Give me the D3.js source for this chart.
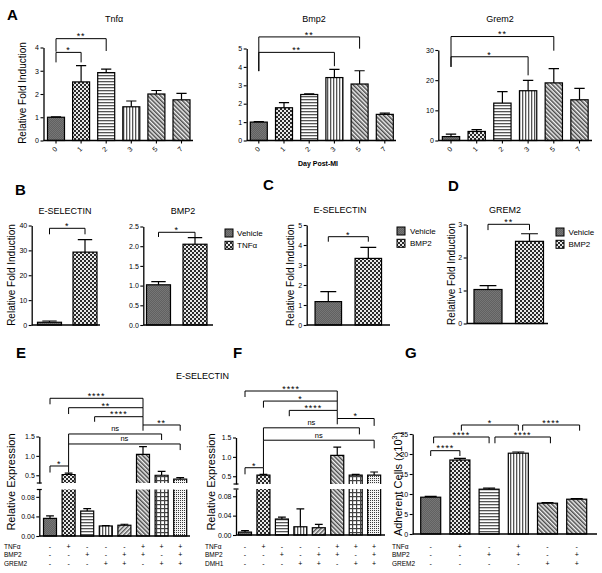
<!DOCTYPE html>
<html><head><meta charset="utf-8">
<script src="https://cdn.jsdelivr.net/npm/d3@7"></script>
<style>
body{margin:0;background:#fff;}
svg{display:block;font-family:"Liberation Sans",Arial,Helvetica,sans-serif;}
</style></head><body>
<svg id="c" width="602" height="573"></svg>
<script>
// ---------------- DATA ----------------
const daysA = ["0","1","2","3","5","7"];
const tnfaVals = [1.0, 2.52, 2.92, 1.45, 2.0, 1.75];
const tnfaErr  = [0.02, 0.70, 0.15, 0.25, 0.15, 0.28];
const bmp2AVals = [1.0, 1.78, 2.50, 3.42, 3.07, 1.42];
const bmp2AErr  = [0.03, 0.28, 0.03, 0.45, 0.72, 0.07];
const grem2AVals = [1.3, 3.0, 12.4, 16.5, 19.1, 13.5];
const grem2AErr  = [0.8, 0.6, 3.8, 3.4, 4.7, 3.8];
const ticksTnfa = [0,1,2,3,4];
const ticksBmp2A = [0,1,2,3,4,5];
const ticksGrem2A = [0,10,20,30];

const legendB = ["Vehicle","TNFα"];
const legendCD = ["Vehicle","BMP2"];
const eselBVals = [1.1, 29.3], eselBErr = [0.5, 5.0];
const bmp2BVals = [1.02, 2.05], bmp2BErr = [0.08, 0.17];
const eselCVals = [1.17, 3.33], eselCErr = [0.5, 0.55];
const grem2DVals = [1.03, 2.49], grem2DErr = [0.12, 0.23];
const ticksEselB = [0,10,20,30,40];
const ticksBmp2B = [0,0.5,1.0,1.5,2.0,2.5];
const ticksEselC = [0,1,2,3,4,5];
const ticksGrem2D = [0,1,2,3];

const eVals = [0.036, 0.52, 0.051, 0.0205, 0.022, 1.04, 0.50, 0.40];
const eErr  = [0.005, 0.035, 0.005, 0.001, 0.002, 0.20, 0.10, 0.04];
const fVals = [0.006, 0.53, 0.033, 0.017, 0.015, 1.04, 0.53, 0.53];
const fErr  = [0.003, 0.02, 0.004, 0.037, 0.007, 0.21, 0.02, 0.08];
const ticksLow = [0, 0.04, 0.08];
const ticksHigh = [0.5, 1.0, 1.5];
const rowsE = ["TNFα","BMP2","GREM2"];
const signsE = [["-","+","-","-","-","+","+","+"],["-","-","+","-","+","+","-","+"],["-","-","-","+","+","-","+","+"]];
const rowsF = ["TNFα","BMP2","DMH1"];
const signsF = signsE;

const gVals = [9.2, 18.5, 11.2, 20.2, 7.7, 8.7];
const gErr  = [0.2, 0.4, 0.25, 0.3, 0.15, 0.15];
const ticksG = [0,5,10,15,20,25];
const rowsG = ["TNFα","BMP2","GREM2"];
const signsG = [["-","+","-","+","-","-"],["-","-","+","+","-","+"],["-","-","-","-","+","+"]];

// significance brackets: bar indices a,b ; heights in data units
const brTnfa = [{a:0,b:2,line:4.38,dl:3.82,dr:3.85,t:"**"},{a:0,b:1,line:3.79,dl:3.36,dr:3.36,t:"*"}];
const brBmp2A = [{a:0,b:4,line:5.63,dl:3.77,dr:4.99,t:"**"},{a:0,b:3,line:4.79,dl:3.77,dr:4.04,t:"**"}];
const brGrem2A = [{a:0,b:4,line:34.46,dl:24.4,dr:29.77,t:"**"},{a:0,b:3,line:27.76,dl:24.4,dr:21.6,t:"*"}];
const brEselB = [{a:0,b:1,line:38.87,dl:36.46,dr:36.46,t:"*"}];
const brBmp2B = [{a:0,b:1,line:2.353,dl:2.234,dr:2.234,t:"*"}];
const brEselC = [{a:0,b:1,line:4.415,dl:4.165,dr:4.165,t:"*"}];
const brGrem2D = [{a:0,b:1,line:3.006,dl:2.83,dr:2.83,t:"**"}];
const brE = [
 {a:0,b:5,line:2.486,dl:2.331,dr:2.243,t:"****"},
 {a:1,b:5,line:2.243,dl:2.08,dr:2.011,t:"**"},
 {a:2.4,b:5,line:2.011,dl:1.88,dr:1.797,t:"****"},
 {a:5,b:7,line:1.797,dl:1.65,dr:1.65,t:"**"},
 {a:1,b:6,line:1.565,dl:1.307,dr:1.41,t:"ns"},
 {a:1,b:7,line:1.307,dl:0.739,dr:1.15,t:"ns"},
 {a:0,b:1,line:0.739,dl:0.57,dr:0.57,t:"*"}];
const brF = [
 {a:0,b:5,line:2.70,dl:2.545,dr:2.44,t:"****"},
 {a:1,b:5,line:2.44,dl:2.27,dr:2.2,t:"*"},
 {a:2.4,b:5,line:2.2,dl:2.05,dr:1.99,t:"****"},
 {a:5,b:7,line:1.99,dl:1.84,dr:1.80,t:"*"},
 {a:1,b:6.2,line:1.75,dl:1.43,dr:1.58,t:"ns"},
 {a:1,b:7,line:1.43,dl:0.72,dr:1.22,t:"ns"},
 {a:0,b:1,line:0.72,dl:0.55,dr:0.55,t:"*"}];
const brG = [
 {a:0,b:1,line:20.83,dl:19.5,dr:19.5,t:"****"},
 {a:0.1,b:2,line:24.25,dl:22.68,dr:22.68,t:"****"},
 {a:2.2,b:4.1,line:24.25,dl:22.68,dr:22.68,t:"****"},
 {a:1.05,b:3,line:27.25,dl:25.83,dr:25.83,t:"*"},
 {a:3.15,b:5.1,line:27.25,dl:25.83,dr:25.83,t:"****"}];

// ---------------- DRAWING ----------------
const svg = d3.select("#c");
const defs = svg.append("defs");
function pat(id, w, h, draw, tr){
  const p = defs.append("pattern").attr("id",id).attr("patternUnits","userSpaceOnUse").attr("width",w).attr("height",h);
  if (tr) p.attr("patternTransform", tr);
  draw(p);
}
const R=(p,x,y,w,h,f)=>p.append("rect").attr("x",x).attr("y",y).attr("width",w).attr("height",h).attr("fill",f);
pat("dark",2,2,p=>{R(p,0,0,2,2,"#616161");R(p,0,0,1,1,"#767676");R(p,1,1,1,1,"#767676");});
pat("checker",4,4,p=>{R(p,0,0,4,4,"#e8e8e8");R(p,0,0,2,2,"#2a2a2a");R(p,2,2,2,2,"#2a2a2a");});
pat("hstripe",3,3,p=>{R(p,0,0,3,3,"#fff");R(p,0,0,3,1.3,"#555");});
pat("vstripe",3,3,p=>{R(p,0,0,3,3,"#fff");R(p,0,0,1.3,3,"#555");});
pat("diag",3,3,p=>{R(p,0,0,3,3,"#f2f2f2");R(p,0,0,1.5,3,"#4a4a4a");},"rotate(-45)");
pat("diag2",3,3,p=>{R(p,0,0,3,3,"#f2f2f2");R(p,0,0,1.4,3,"#555");},"rotate(45)");
pat("grid",4,4,p=>{R(p,0,0,4,4,"#fff");R(p,0,0,4,1.2,"#444");R(p,0,0,1.2,4,"#444");});
pat("fine",2,2,p=>{R(p,0,0,2,2,"#f4f4f4");R(p,0,0,1,1,"#3a3a3a");});

function txt(g,x,y,s,size,o={}){
  const t=g.append("text").attr("x",x).attr("y",y).attr("font-size",size)
    .attr("text-anchor",o.anchor||"middle").attr("fill","#000").text(s);
  if(o.bold) t.attr("font-weight","bold");
  if(o.rot!==undefined) t.attr("transform",`rotate(${o.rot},${x},${y})`);
  if(o.db) t.attr("dominant-baseline",o.db);
  if(o.ls) t.attr("letter-spacing",o.ls);
  return t;
}
function styleAxis(ax,fs){
  ax.select(".domain").attr("stroke-width",1.3);
  ax.selectAll(".tick line").attr("stroke-width",1.1);
  ax.selectAll(".tick text").attr("font-size",fs).attr("font-family",null);
  ax.attr("font-family",null);
}
function drawBrackets(g,x,y,list){
  list.forEach(b=>{
    const xa=x(b.a), xb=x(b.b), yl=y(b.line);
    g.append("path").attr("d",`M${xa},${y(b.dl)}V${yl}H${xb}V${y(b.dr)}`)
      .attr("fill","none").attr("stroke","#000").attr("stroke-width",1);
    if(b.t==="ns") txt(g,(xa+xb)/2,yl-2.5,b.t,7.5);
    else txt(g,(xa+xb)/2,yl+0.8,b.t,9,{ls:0.9});
  });
}
function errPath(xc,y0,yt,cw){return `M${xc},${y0}V${yt}M${xc-cw},${yt}H${xc+cw}`;}

function barChart(c){
  const g=svg.append("g");
  const n=c.vals.length;
  const x=d3.scaleLinear().domain([0,n-1]).range([c.c0,c.c0+c.step*(n-1)]);
  const y=d3.scaleLinear().domain([0,d3.max(c.ticks)]).range(c.yr);
  g.selectAll(".bar").data(c.vals).join("rect").attr("class","bar")
    .attr("x",(d,i)=>x(i)-c.bw/2).attr("width",c.bw)
    .attr("y",d=>y(d)).attr("height",d=>y(0)-y(d))
    .attr("fill",(d,i)=>`url(#${c.fills[i]})`).attr("stroke","#000").attr("stroke-width",1.2);
  g.selectAll(".eb").data(c.vals).join("path").attr("class","eb")
    .attr("d",(d,i)=>errPath(x(i),y(d),y(d+c.errs[i]),c.bw*0.3))
    .attr("stroke","#000").attr("stroke-width",1.2).attr("fill","none");
  const ax=g.append("g").attr("transform",`translate(${c.axisX},0)`)
    .call(d3.axisLeft(y).tickValues(c.ticks).tickFormat(c.fmt||d3.format("")).tickSize(3).tickSizeOuter(0).tickPadding(1.5));
  styleAxis(ax,c.fs||7);
  g.append("line").attr("x1",c.axisX).attr("x2",c.xEnd).attr("y1",y(0)).attr("y2",y(0))
    .attr("stroke","#000").attr("stroke-width",1.3);
  if(c.xlabels){
    g.selectAll(".xt").data(c.xlabels).join("line").attr("class","xt")
      .attr("x1",(d,i)=>x(i)).attr("x2",(d,i)=>x(i)).attr("y1",y(0)).attr("y2",y(0)+3)
      .attr("stroke","#000").attr("stroke-width",1.1);
    c.xlabels.forEach((d,i)=>txt(g,x(i)-1.5,y(0)+8.5,d,7,{rot:-45,db:"central"}));
  }
  if(c.title) txt(g,c.title[0],c.title[1],c.title[2],9);
  drawBrackets(g,x,y,c.brackets||[]);
  return {g,x,y};
}

function brokenChart(c){
  const g=svg.append("g");
  const n=c.vals.length;
  const x=d3.scaleLinear().domain([0,n-1]).range([c.c0,c.c0+c.step*(n-1)]);
  const yLo=d3.scaleLinear().domain(c.loDom).range(c.loR);
  const yHi=d3.scaleLinear().domain(c.hiDom).range(c.hiR);
  const loMax=c.loDom[1], hiMin=c.hiDom[0];
  c.vals.forEach((v,i)=>{
    const xl=x(i)-c.bw/2, xr=x(i)+c.bw/2, fill=`url(#${c.fills[i]})`;
    if(v<=loMax){
      g.append("rect").attr("x",xl).attr("y",yLo(v)).attr("width",c.bw).attr("height",yLo(0)-yLo(v))
        .attr("fill",fill).attr("stroke","#000").attr("stroke-width",1.2);
      g.append("path").attr("d",errPath(x(i),yLo(v),yLo(v+c.errs[i]),c.bw*0.3))
        .attr("stroke","#000").attr("stroke-width",1.2).attr("fill","none");
    } else {
      g.append("rect").attr("x",xl).attr("y",yLo(loMax)).attr("width",c.bw).attr("height",yLo(0)-yLo(loMax)).attr("fill",fill);
      g.append("path").attr("d",`M${xl},${yLo(loMax)}V${yLo(0)}H${xr}V${yLo(loMax)}`)
        .attr("fill","none").attr("stroke","#000").attr("stroke-width",1.2);
      g.append("rect").attr("x",xl).attr("y",yHi(v)).attr("width",c.bw).attr("height",yHi(hiMin)-yHi(v)).attr("fill",fill);
      g.append("path").attr("d",`M${xl},${yHi(hiMin)}V${yHi(v)}H${xr}V${yHi(hiMin)}`)
        .attr("fill","none").attr("stroke","#000").attr("stroke-width",1.2);
      g.append("path").attr("d",errPath(x(i),yHi(v),yHi(v+c.errs[i]),c.bw*0.3))
        .attr("stroke","#000").attr("stroke-width",1.2).attr("fill","none");
    }
  });
  const a1=g.append("g").attr("transform",`translate(${c.axisX},0)`)
    .call(d3.axisLeft(yLo).tickValues(c.loTicks).tickFormat(d3.format(".2f")).tickSize(3).tickSizeOuter(0).tickPadding(1.5));
  const a2=g.append("g").attr("transform",`translate(${c.axisX},0)`)
    .call(d3.axisLeft(yHi).tickValues(c.hiTicks).tickFormat(d3.format(".1f")).tickSize(3).tickSizeOuter(0).tickPadding(1.5));
  styleAxis(a1,7); styleAxis(a2,7);
  [yLo(loMax),yHi(hiMin)].forEach(yy=>g.append("line").attr("x1",c.axisX-2.5).attr("x2",c.axisX+2.5)
    .attr("y1",yy).attr("y2",yy).attr("stroke","#000").attr("stroke-width",1.2));
  g.append("line").attr("x1",c.axisX).attr("x2",c.xEnd).attr("y1",yLo(0)).attr("y2",yLo(0))
    .attr("stroke","#000").attr("stroke-width",1.3);
  drawBrackets(g,x,yHi,c.brackets);
  return {g,x};
}

function table(g,x,rows,signs,labelX,ys){
  rows.forEach((r,j)=>{
    txt(g,labelX,ys[j],r,6.5,{anchor:"start"});
    signs[j].forEach((s,i)=>txt(g,x(i),ys[j],s,7));
  });
}
function legend(items,fills,sx,sy,tx,gap){
  const g=svg.append("g");
  items.forEach((s,i)=>{
    g.append("rect").attr("x",sx).attr("y",sy+i*gap).attr("width",8).attr("height",8)
      .attr("fill",`url(#${fills[i]})`).attr("stroke","#000").attr("stroke-width",1);
    txt(g,tx,sy+i*gap+7,s,8,{anchor:"start"});
  });
}

const ann=svg.append("g");
// panel letters
[["A",7,20],["B",15,195],["C",263,190],["D",448,190.5],["E",16,358],["F",233,358],["G",405,358]]
  .forEach(d=>txt(ann,d[1],d[2],d[0],15,{anchor:"start",bold:true}));

// Panel A
const fillsA=["dark","checker","hstripe","vstripe","diag","diag"];
barChart({vals:tnfaVals,errs:tnfaErr,ticks:ticksTnfa,c0:56,step:25.1,bw:17,axisX:43.5,xEnd:193,yr:[140.5,47.5],
  fills:fillsA,xlabels:daysA,title:[114,22,"Tnfα"],brackets:brTnfa});
barChart({vals:bmp2AVals,errs:bmp2AErr,ticks:ticksBmp2A,c0:258.8,step:25.2,bw:17,axisX:246.7,xEnd:396,yr:[140.5,48.5],
  fills:fillsA,xlabels:daysA,title:[314,22,"Bmp2"],brackets:brBmp2A});
barChart({vals:grem2AVals,errs:grem2AErr,ticks:ticksGrem2A,c0:451,step:25.7,bw:17.3,axisX:438.3,xEnd:592,yr:[140.5,50],
  fills:fillsA,xlabels:daysA,title:[500,22,"Grem2"],brackets:brGrem2A});
txt(ann,22,93,"Relative Fold Induction",10,{rot:-90,db:"central"});
txt(ann,318,166,"Day Post-MI",7,{bold:true});

// Panel B
barChart({vals:eselBVals,errs:eselBErr,ticks:ticksEselB,c0:49.5,step:35.5,bw:24,axisX:31.7,xEnd:100,yr:[325,225.5],
  fills:["dark","checker"],title:[65,214,"E-SELECTIN"],brackets:brEselB});
barChart({vals:bmp2BVals,errs:bmp2BErr,ticks:ticksBmp2B,c0:158.5,step:36.5,bw:24,axisX:143.3,xEnd:213,yr:[325,226.5],
  fmt:d3.format(".1f"),fills:["dark","checker"],title:[183,214,"BMP2"],brackets:brBmp2B});
txt(ann,11,275,"Relative Fold Induction",10,{rot:-90,db:"central"});
legend(legendB,["dark","checker"],225,229,237,12.3);

// Panel C
barChart({vals:eselCVals,errs:eselCErr,ticks:ticksEselC,c0:328.3,step:40,bw:26.5,axisX:306.7,xEnd:390,yr:[325,225],
  fills:["dark","checker"],title:[340,212.5,"E-SELECTIN"],brackets:brEselC});
txt(ann,290,275,"Relative Fold Induction",10,{rot:-90,db:"central"});
legend(legendCD,["dark","checker"],397,227,410,12.3);

// Panel D
barChart({vals:grem2DVals,errs:grem2DErr,ticks:ticksGrem2D,c0:488,step:41.5,bw:28,axisX:466.7,xEnd:548,yr:[323.5,224.5],
  fills:["dark","checker"],title:[505,212.5,"GREM2"],brackets:brGrem2D});
txt(ann,451.5,274,"Relative Fold Induction",10,{rot:-90,db:"central"});
legend(legendCD,["dark","checker"],556,228,568.5,12.3);

// Panels E, F
txt(ann,202.5,379,"E-SELECTIN",9);
const fillsEF=["dark","checker","hstripe","vstripe","diag2","diag","grid","fine"];
const E=brokenChart({vals:eVals,errs:eErr,c0:50,step:18.6,bw:13,axisX:39.3,xEnd:190,
  loDom:[0,0.095],loR:[536,489.5],hiDom:[0.3,1.5],hiR:[483,436.5],loTicks:ticksLow,hiTicks:ticksHigh,
  fills:fillsEF,brackets:brE});
table(E.g,E.x,rowsE,signsE,4,[548.5,557,565.5]);
txt(ann,11,482,"Relative Expression",11,{rot:-90,db:"central"});
const Fp=brokenChart({vals:fVals,errs:fErr,c0:245,step:18.45,bw:13,axisX:236,xEnd:385,
  loDom:[0,0.095],loR:[535,489],hiDom:[0.3,1.5],hiR:[484,437.5],loTicks:ticksLow,hiTicks:ticksHigh,
  fills:fillsEF,brackets:brF});
table(Fp.g,Fp.x,rowsF,signsF,205,[548.5,557,565.5]);
txt(ann,211,482,"Relative Expression",11,{rot:-90,db:"central"});

// Panel G
const G=barChart({vals:gVals,errs:gErr,ticks:ticksG,c0:430.7,step:29.2,bw:20,axisX:412.7,xEnd:597,yr:[534,434],
  fills:["dark","checker","hstripe","vstripe","diag","diag"],brackets:brG});
table(G.g,G.x,rowsG,signsG,392,[548.5,557,565.5]);
const gl=txt(ann,398,484,"Adherent Cells (x10",11,{rot:-90,db:"central"});
gl.append("tspan").attr("font-size",7).attr("dy",-4).text("3");
gl.append("tspan").attr("dy",4).text(")");
</script>
</body></html>
